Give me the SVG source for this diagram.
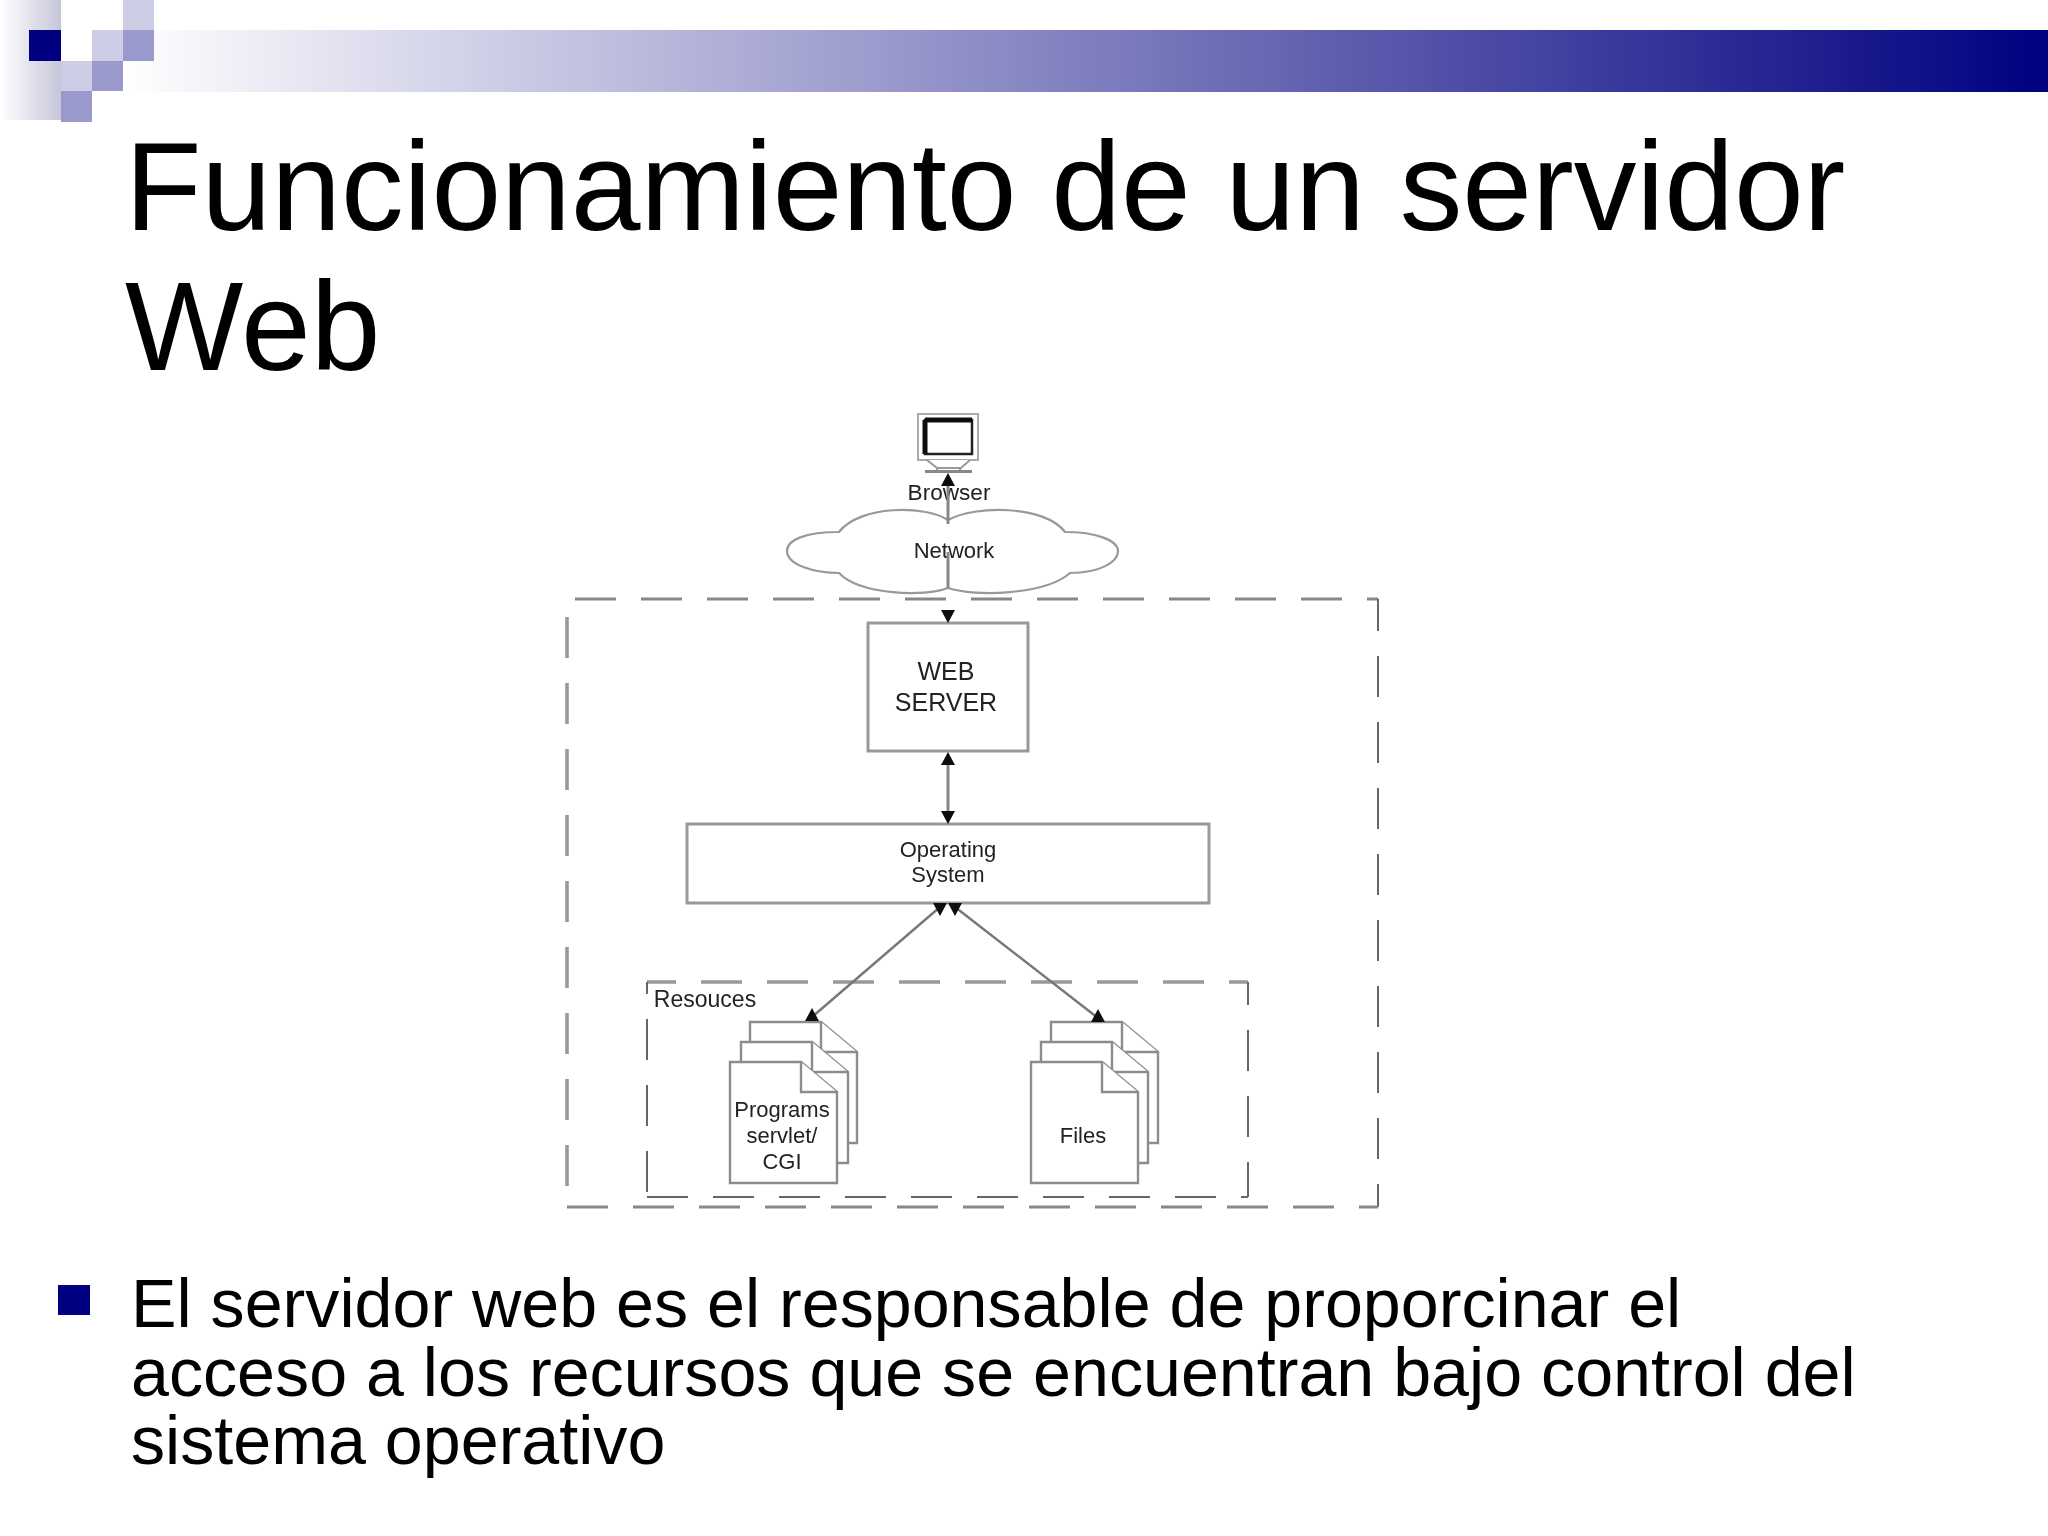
<svg xmlns="http://www.w3.org/2000/svg" width="2048" height="1536" viewBox="0 0 2048 1536">
<style>
.t{font-family:"Liberation Sans",Arial,sans-serif;fill:#000}
.d{font-family:"Liberation Sans",Arial,sans-serif;fill:#222;text-anchor:middle}
.b{fill:#fff;stroke:#999;stroke-width:3}
.p{fill:#fff;stroke:#8c8c8c;stroke-width:2.4}
.c{fill:none;stroke:#777;stroke-width:2.4}
.v{fill:none;stroke:#888;stroke-width:3}
.h{fill:none;stroke:#888;stroke-width:3;stroke-dasharray:41 25}
.thick{fill:none;stroke:#999;stroke-width:3.6;stroke-dasharray:41 25}
.thin{fill:none;stroke:#666;stroke-width:2;stroke-dasharray:41 25}
</style>
<defs>
<linearGradient id="bar" x1="0" x2="1" y1="0" y2="0"><stop offset="0" stop-color="#fff"/><stop offset="1" stop-color="#000080"/></linearGradient>
<linearGradient id="side" x1="0" x2="1" y1="0" y2="0"><stop offset="0" stop-color="#fff"/><stop offset="1" stop-color="#c6c6da"/></linearGradient>
<filter id="soft" x="-2%" y="-2%" width="104%" height="104%"><feGaussianBlur stdDeviation="0.55"/></filter>
<marker id="up" viewBox="0 0 14 13" refX="7" refY="9" markerWidth="14" markerHeight="13" markerUnits="userSpaceOnUse" orient="0"><path d="M0 13L7 0L14 13Z" fill="#111"/></marker>
<marker id="dn" viewBox="0 0 14 13" refX="7" refY="4" markerWidth="14" markerHeight="13" markerUnits="userSpaceOnUse" orient="0"><path d="M0 0L14 0L7 13Z" fill="#111"/></marker>
<g id="page"><path class="p" d="M0 0H71L107 30V121H0Z"/><path class="p" d="M71 0V30H107"/></g>
</defs>
<g id="header">
<rect x="120" y="30" width="1928" height="62" fill="url(#bar)"/>
<rect x="0" y="0" width="61" height="120" fill="url(#side)"/>
<rect x="61" y="0" width="62" height="30" fill="#fff"/><rect x="61" y="30" width="31" height="31" fill="#fff"/><rect x="123" y="0" width="31" height="30" fill="#ccccE4"/>
<rect x="92" y="30" width="31" height="31" fill="#ccccE4"/><rect x="123" y="30" width="31" height="31" fill="#9999CC"/>
<rect x="29" y="30" width="32" height="31" fill="#000080"/>
<rect x="61" y="61" width="31" height="30" fill="#ccccE4"/><rect x="92" y="61" width="31" height="30" fill="#9999CC"/>
<rect x="61" y="91" width="31" height="31" fill="#9999CC"/>
</g>
<text class="t" x="125" y="230" font-size="125.3">Funcionamiento de un servidor</text>
<text class="t" x="125" y="370" font-size="125.3">Web</text>
<g id="diagram" filter="url(#soft)">
<g id="outer-boundary">
<path class="h" d="M575 599H1378"/>
<path class="thick" d="M567 617V1207"/>
<path class="thin" stroke-dashoffset="9" d="M1378 599V1207"/>
<path class="h" d="M567 1207H1378"/>
</g>
<g id="browser">
<rect x="918" y="414" width="60" height="46" fill="#fff" stroke="#aaa" stroke-width="2"/>
<rect x="925" y="420" width="47" height="34" fill="#fff" stroke="#222" stroke-width="2.5"/>
<path d="M925 420H972M925 420V454" fill="none" stroke="#111" stroke-width="5"/>
<path d="M927 460L937 468H961L970 460M937 468V471M960 468V471" fill="#fff" stroke="#999" stroke-width="2"/>
<rect x="925" y="470" width="47" height="3" fill="#888"/>
<text class="d" x="949" y="500" font-size="22.6">Browser</text>
</g>
<g id="network">
<path d="M948 520C925 505 860 505 839 532C805 532 787 540 787 551C787 565 815 573 839 573C860 595 925 597 948 588C975 597 1045 595 1070 573C1100 573 1118 562 1118 551C1118 540 1095 532 1065 532C1045 505 975 505 948 520Z" fill="none" stroke="#999" stroke-width="2.2"/>
<text class="d" x="954" y="558" font-size="22">Network</text>
</g>
<g id="web-server">
<rect class="b" x="868" y="623" width="160" height="128"/>
<text class="d" x="946" y="680" font-size="25">WEB</text>
<text class="d" x="946" y="711" font-size="25">SERVER</text>
</g>
<g id="operating-system">
<rect class="b" x="687" y="824" width="522" height="79"/>
<text class="d" x="948" y="857" font-size="22">Operating</text>
<text class="d" x="948" y="882" font-size="22">System</text>
</g>
<g id="resources">
<path class="thick" stroke-dashoffset="12" d="M647 982H1248"/>
<path class="thin" stroke-dashoffset="29" d="M647 982V1197"/>
<path class="thin" stroke-width="2.4" stroke-dashoffset="18" d="M1248 982V1197"/>
<path class="thin" stroke-width="2.4" d="M647 1197H1248"/>
<text class="d" x="705" y="1007" font-size="23">Resouces</text>
</g>
<g id="programs">
<use href="#page" x="750" y="1022"/>
<use href="#page" x="741" y="1042"/>
<use href="#page" x="730" y="1062"/>
<text class="d" x="782" y="1117" font-size="22">Programs</text>
<text class="d" x="782" y="1143" font-size="22">servlet/</text>
<text class="d" x="782" y="1169" font-size="22">CGI</text>
</g>
<g id="files">
<use href="#page" x="1051" y="1022"/>
<use href="#page" x="1041" y="1042"/>
<use href="#page" x="1031" y="1062"/>
<text class="d" x="1083" y="1143" font-size="22">Files</text>
</g>
<g id="connectors">
<path class="v" d="M948 524V482" marker-end="url(#up)"/>
<path class="v" d="M948 552V588"/>
<path class="v" d="M948 610V614" marker-end="url(#dn)"/>
<path class="v" d="M948 761V815" marker-start="url(#up)" marker-end="url(#dn)"/>
<path class="c" d="M940 907L812 1017" marker-start="url(#dn)" marker-end="url(#up)"/>
<path class="c" d="M955 907L1098 1018" marker-start="url(#dn)" marker-end="url(#up)"/>
</g>
</g>
<rect id="bullet" x="58" y="1285" width="32" height="30" fill="#000080"/>
<text class="t" x="131" y="1327" font-size="68.2">El servidor web es el responsable de proporcinar el</text>
<text class="t" x="131" y="1396" font-size="68.2">acceso a los recursos que se encuentran bajo control del</text>
<text class="t" x="131" y="1464" font-size="68.2">sistema operativo</text>
</svg>
